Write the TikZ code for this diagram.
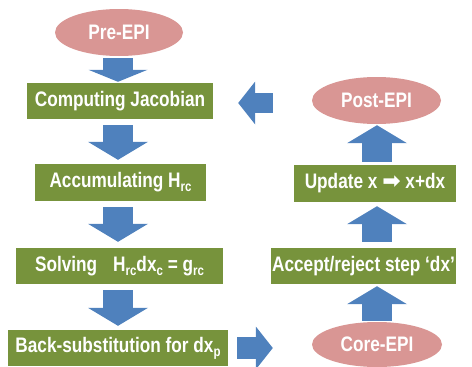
\documentclass[tikz,border=0pt]{standalone}
\usepackage{fontspec}
\setmainfont{Liberation Sans}[FakeStretch=0.82]
\newfontfamily\symfont{DejaVu Sans}
\usetikzlibrary{shapes.geometric}
\usetikzlibrary{arrows.meta}
\definecolor{epipink}{HTML}{D99694}
\definecolor{stepgreen}{HTML}{77933C}
\definecolor{flowblue}{HTML}{4F81BD}
\newcommand\lowsub[1]{\raisebox{-4pt}{\fontsize{14}{14}\selectfont #1}}

\begin{document}
\begin{tikzpicture}[x=1pt,y=-1pt,
  font=\fontsize{21}{24}\selectfont\bfseries,
  epi/.style={ellipse,fill=epipink,text=white,inner sep=0pt,minimum width=128pt,minimum height=47pt},
  stepbox/.style={rectangle,fill=stepgreen,text=white,inner sep=0pt,minimum height=36pt},
  flowv/.style={draw=flowblue,line width=30pt,-{Triangle[length=18pt,width=60pt,line width=0pt]}},
  flowh/.style={draw=flowblue,line width=21pt,-{Triangle[length=17pt,width=43pt,line width=0pt]}}]
\useasboundingbox (0,0) rectangle (472,367);

\node[epi] (pre) at (119,32.5) {Pre-EPI};
\node[stepbox,minimum width=186pt] (jac) at (120,101) {Computing Jacobian};
\node[stepbox,minimum width=171pt,minimum height=37pt] (acc) at (120.5,182.5) {Accumulating H\lowsub{rc}};
\node[stepbox,minimum width=207pt] (solve) at (119.5,266) {Solving\hspace{16pt}H\lowsub{rc}dx\lowsub{c} = g\lowsub{rc}};
\node[stepbox,minimum width=220pt] (back) at (118,348) {Back-substitution for dx\lowsub{p}};

\node[epi,minimum width=129pt] (post) at (376.5,100.5) {Post-EPI};
\node[stepbox,minimum width=162pt,minimum height=37pt] (upd) at (375,183.5) {Update x {\symfont\fontsize{22}{22}\selectfont ➡} x+dx};
\node[stepbox,minimum width=185pt] (accept) at (363.5,266) {Accept/reject step ‘dx’};
\node[epi,minimum width=130pt,minimum height=45pt] (core) at (377,344.5) {Core-EPI};

\coordinate (lx) at (118,0);
\coordinate (rx) at (377,0);

\draw[flowv,shorten <=2pt,shorten >=1pt,-{Triangle[length=12pt,width=59pt,line width=0pt]}] (lx |- pre.south) -- (lx |- jac.north);
\draw[flowv,shorten <=6pt,shorten >=4pt] (lx |- jac.south) -- (lx |- acc.north);
\draw[flowv,shorten <=6pt,shorten >=6pt] (lx |- acc.south) -- (lx |- solve.north);
\draw[flowv,shorten <=6pt,shorten >=4pt] (lx |- solve.south) -- (lx |- back.north);

\draw[flowv,shorten <=1pt,shorten >=2pt] (rx |- core.north) -- (rx |- accept.south);
\draw[flowv,shorten <=6pt,shorten >=4pt] (rx |- accept.north) -- (rx |- upd.south);
\draw[flowv,shorten <=3pt,shorten >=1pt] (rx |- upd.north) -- (rx |- post.south);

\draw[flowh,line width=20pt,shorten <=39pt,shorten >=25pt] (post.west |- 0,103) -- (jac.east |- 0,103);
\draw[flowh,line width=22pt,shorten <=9pt,shorten >=39pt] (back.east) -- (back.east -| core.west);

\end{tikzpicture}
\end{document}
